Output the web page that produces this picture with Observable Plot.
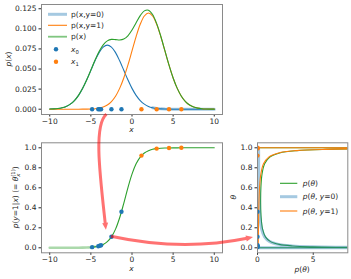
<!DOCTYPE html>
<html><head><meta charset="utf-8">
<script src="https://cdn.jsdelivr.net/npm/d3@7"></script>
<script src="https://cdn.jsdelivr.net/npm/@observablehq/plot@0.6"></script>
<style>
body{margin:0;background:#fff;}
#fig{position:relative;width:351px;height:279px;overflow:hidden;font-family:"DejaVu Sans",sans-serif;background:#fff;}
#fig svg{position:absolute;max-width:none;}
</style></head><body><div id="fig"></div>
<script>
// ---- data ----
const xs = [-10,-9.5,-9,-8.5,-8,-7.5,-7,-6.5,-6,-5.5,-5,-4.5,-4,-3.5,-3,-2.5,-2,-1.5,-1,-0.5,0,0.5,1,1.5,2,2.5,3,3.5,4,4.5,5,5.5,6,6.5,7,7.5,8,8.5,9,9.5,10];
const pXy0 = [0.000175,0.000405,0.000886,0.00182,0.0035,0.00635,0.0108,0.01726,0.02591,0.03653,0.0484,0.06023,0.07042,0.07734,0.0798,0.07734,0.07042,0.06023,0.0484,0.03653,0.02591,0.01726,0.0108,0.00635,0.0035,0.00182,0.000886,0.000405,0.000175,0.00007,0.000027,0.00001,0.000003,0.000001,0,0,0,0,0,0,0];
const pXy1 = [0,0,0,0,0,0.0000015,0.0000048,0.0000144,0.00004,0.000106,0.000262,0.000608,0.00133,0.00273,0.00525,0.00953,0.0162,0.02589,0.03886,0.05479,0.0726,0.09035,0.10563,0.11601,0.1197,0.11601,0.10563,0.09035,0.0726,0.05479,0.03886,0.02589,0.0162,0.00953,0.00525,0.00273,0.00133,0.000608,0.000262,0.000106,0.00004];
const pX = [0.000175,0.000405,0.000886,0.00182,0.0035,0.00635,0.0108,0.01727,0.02595,0.03664,0.04866,0.06084,0.07175,0.08007,0.08505,0.08687,0.08662,0.08612,0.08726,0.09132,0.09851,0.10761,0.11643,0.12236,0.1232,0.11783,0.10652,0.09076,0.07278,0.05486,0.03889,0.0259,0.0162,0.00953,0.00525,0.00273,0.00133,0.000608,0.000262,0.000106,0.00004];
const thetaX = [0.0000104,0.0000195,0.0000364,0.000068,0.000127,0.000237,0.000443,0.000828,0.00155,0.00289,0.00538,0.01001,0.01852,0.03406,0.0618,0.1096,0.187,0.3005,0.4452,0.5999,0.7369,0.8396,0.9072,0.9481,0.9715,0.9846,0.9917,0.99552,0.9976,0.99871,0.99931,0.99963,0.9998,0.999894,0.999943,0.99997,0.999984,0.9999913,0.9999954,0.9999975,0.9999987];

// theta panel (curves traced as (density, theta) pairs)
const thetaT = [0,0,0.00000025,0.00000086,0.000003,0.0000056,0.0000104,0.0000195,0.0000364,0.000068,0.000127,0.000237,0.000443,0.000828,0.00155,0.00289,0.00538,0.01001,0.01852,0.03406,0.0618,0.1096,0.187,0.3005,0.4452,0.5999,0.7369,0.8396,0.9072,0.9481,0.9715,0.9846,0.9917,0.99552,0.9976,0.99871,0.99931,0.99963,0.9998,0.999894,0.999943,0.99997,0.999984,0.9999913,0.9999954,0.9999975,0.9999987,0.9999993,0.9999996,1,1,1,1];
const densTheta = [0.048,0.245,0.97,3.0,7.1,10.1,13.5,16.6,19.5,21.4,22.0,21.4,19.5,16.7,13.4,10.1,7.28,4.91,3.16,1.95,1.17,0.712,0.456,0.328,0.283,0.305,0.406,0.64,1.107,1.989,3.559,6.22,10.36,16.3,24.4,34.0,45.1,56.0,64.8,71.9,73.7,72.8,66.5,55.9,45.6,33.9,24.7,16.2,10.1,3.28,0.83,0.162,0.025];
const densTheta0 = [0.048,0.245,0.97,3.0,7.1,10.1,13.5,16.6,19.5,21.4,22.0,21.4,19.5,16.7,13.4,10.1,7.24,4.86,3.10,1.88,1.10,0.634,0.371,0.229,0.157,0.122,0.107,0.1025,0.1027,0.1032,0.1014,0.0957,0.0859,0.0729,0.0584,0.0439,0.0311,0.0207,0.013,0.0076,0.0042,0.0022,0.0011,0.0005,0.0002,0.0001,0.00003,0,0,0,0,0,0];
const densTheta1 = [0,0,0,0,0,0.0001,0.00014,0.00032,0.00071,0.00146,0.0028,0.0051,0.0086,0.0138,0.0208,0.0294,0.0391,0.0492,0.0585,0.0663,0.0725,0.0781,0.0852,0.0985,0.1258,0.1826,0.2994,0.537,1.004,1.886,3.458,6.12,10.27,16.2,24.3,34.0,45.1,56.0,64.8,71.9,73.7,72.8,66.5,55.9,45.6,33.9,24.7,16.2,10.1,3.28,0.83,0.162,0.025];

const x0 = [-4.85,-4.1,-3.92,-3.76,-2.5,-1.28];
const x1 = [1.15,3.0,4.5,6.0];
const theta0 = [0.0065,0.016,0.021,0.025,0.11,0.36];
const theta1 = [0.922,0.992,0.9987,0.9998];

const xTicks = [-10,-5,0,5,10];
const pTicks = [0,0.025,0.05,0.075,0.1,0.125];
const thTicks = [0,0.2,0.4,0.6,0.8,1.0];
const dTicks = [0,5];

// ---- tables ----
const curve = xs.map((x,i)=>({x, p0:pXy0[i], p1:pXy1[i], p:pX[i], t:thetaX[i]}));
const thRows = thetaT.map((t,i)=>({t, d:densTheta[i], d0:densTheta0[i], d1:densTheta1[i]}));
const s0 = x0.map((x,i)=>({x, t:theta0[i], base:0}));
const s1 = x1.map((x,i)=>({x, t:theta1[i], base:0}));

const C0="#1f77b4", C1="#ff7f0e", C2="#2ca02c", FR="#8a8a8a";
const minus = d => d<0 ? "\u2212"+Math.abs(d) : String(d);
const style = {fontFamily:"DejaVu Sans", fontSize:"7.5px", color:"#262626", background:"transparent", overflow:"visible"};
const lw = 1.1;

const topP = Plot.plot({
  width:230, height:135, marginLeft:41, marginRight:8, marginTop:4, marginBottom:21, style,
  x:{domain:[-11,11], ticks:xTicks, tickFormat:minus, tickSize:2.5, tickPadding:1.5, label:null},
  y:{domain:[-0.0066,0.1303], ticks:pTicks, tickFormat:d3.format(".3f"), tickSize:2.5, tickPadding:2.5, label:null},
  marks:[
    Plot.line(curve.filter(d=>d.x>=2.5), {x:"x", y:"p0", stroke:C0, strokeWidth:3, strokeOpacity:0.4}),
    Plot.line(curve, {x:"x", y:"p0", stroke:C0, strokeWidth:lw, curve:"catmull-rom"}),
    Plot.line(curve, {x:"x", y:"p1", stroke:C1, strokeWidth:lw, curve:"catmull-rom"}),
    Plot.line(curve, {x:"x", y:"p", stroke:C2, strokeWidth:lw, curve:"catmull-rom"}),
    Plot.dot(s0, {x:"x", y:"base", r:2.2, fill:C0, stroke:"none"}),
    Plot.dot(s1, {x:"x", y:"base", r:2.2, fill:C1, stroke:"none"}),
    Plot.frame({stroke:FR})
  ]
});

const blP = Plot.plot({
  width:230, height:144, marginLeft:41, marginRight:8, marginTop:7.3, marginBottom:26.7, style,
  x:{domain:[-11,11], ticks:xTicks, tickFormat:minus, tickSize:2.5, tickPadding:1.5, label:null},
  y:{domain:[-0.05,1.05], ticks:thTicks, tickFormat:d3.format(".1f"), tickSize:2.5, tickPadding:2.5, label:null},
  marks:[
    Plot.line(curve.filter(d=>d.x<=-4.5), {x:"x", y:"t", stroke:C2, strokeWidth:2.6, strokeOpacity:0.4, curve:"catmull-rom"}),
    Plot.line(curve.filter(d=>d.x>=-5), {x:"x", y:"t", stroke:C2, strokeWidth:lw, curve:"catmull-rom"}),
    Plot.dot(s0, {x:"x", y:"t", r:2.2, fill:C0, stroke:"none"}),
    Plot.dot(s1, {x:"x", y:"t", r:2.2, fill:C1, stroke:"none"}),
    Plot.frame({stroke:FR})
  ]
});

const brP = Plot.plot({
  width:126, height:144, marginLeft:32, marginRight:3.7, marginTop:7.3, marginBottom:26.7, style,
  x:{domain:[0,8.1], ticks:dTicks, tickFormat:minus, tickSize:2.5, tickPadding:1.5, label:null},
  y:{domain:[-0.05,1.05], ticks:thTicks, tickFormat:d3.format(".1f"), tickSize:2.5, tickPadding:2.5, label:null},
  marks:[
    Plot.line(thRows, {x:"d", y:"t", stroke:C2, strokeWidth:lw, curve:"catmull-rom", clip:true}),
    Plot.line(thRows, {x:"d0", y:"t", stroke:C0, strokeWidth:3, strokeOpacity:0.4, curve:"catmull-rom", clip:true}),
    Plot.line(thRows, {x:"d1", y:"t", stroke:C1, strokeWidth:lw, curve:"catmull-rom", clip:true}),
    Plot.dot(s0, {x:"base", y:"t", r:2.2, fill:C0, stroke:"none", clip:true}),
    Plot.dot(s1, {x:"base", y:"t", r:2.2, fill:C1, stroke:"none", clip:true}),
    Plot.frame({stroke:FR})
  ]
});

const fig = document.getElementById("fig");
const place = (el, l, t) => { el.style.left = l+"px"; el.style.top = t+"px"; fig.appendChild(el); };
place(topP, 0, 0); place(blP, 0, 135); place(brP, 225, 135);

// ---- overlay: labels, legends, arrows ----
const ov = d3.select(fig).append("svg").attr("width",351).attr("height",279)
  .style("left","0px").style("top","0px").style("pointer-events","none")
  .attr("font-family","DejaVu Sans").attr("font-size",7.5).attr("fill","#262626");

function mtext(g, x, y, parts, opts={}) {
  const t = g.append("text").attr("x",x).attr("y",y).attr("dy","0.35em")
    .attr("text-anchor", opts.anchor||"start");
  if (opts.rotate) t.attr("transform",`rotate(-90,${x},${y})`);
  for (const p of parts) {
    const s = t.append("tspan").text(p.s);
    if (p.i) s.attr("font-style","italic");
    if (p.dy) s.attr("dy",p.dy);
    if (p.dx) s.attr("dx",p.dx);
    if (p.fs) s.attr("font-size",p.fs);
  }
  return t;
}
const I = s => ({s, i:true}), U = s => ({s});

// frame geometry from scales
const tx = topP.scale("x"), ty = topP.scale("y");
const bx = blP.scale("x"), by = blP.scale("y");
const rx = brP.scale("x"), ry = brP.scale("y");
const topFrame = {l:tx.range[0], r:tx.range[1], t:ty.range[1], b:ty.range[0]};
const blFrame = {l:bx.range[0], r:bx.range[1], t:by.range[1]+135, b:by.range[0]+135};
const brFrame = {l:rx.range[0]+225, r:rx.range[1]+225, t:ry.range[1]+135, b:ry.range[0]+135};

// axis labels
mtext(ov, 8, (topFrame.t+topFrame.b)/2, [I("p"),U("("),I("x"),U(")")], {anchor:"middle", rotate:true});
mtext(ov, (topFrame.l+topFrame.r)/2, topFrame.b+15, [I("x")], {anchor:"middle"});
mtext(ov, 15.5, (blFrame.t+blFrame.b)/2,
  [I("p"),U("("),I("y"),U("=1|"),I("x"),U(")  (= "),I("θ"),
   {s:"x", i:true, dy:2, fs:5.3},{s:"(1)", dx:-3.2, dy:-5.5, fs:5.3},{s:")", dy:3.5}],
  {anchor:"middle", rotate:true});
mtext(ov, (blFrame.l+blFrame.r)/2, blFrame.b+16, [I("x")], {anchor:"middle"});
mtext(ov, 233.5, (brFrame.t+brFrame.b)/2, [I("θ")], {anchor:"middle", rotate:true});
mtext(ov, (brFrame.l+brFrame.r)/2, brFrame.b+17.5, [I("p"),U("("),I("θ"),U(")")], {anchor:"middle"});

// top legend
const lgT = [
  {dy:10.3, kind:"line", c:C0, w:3, o:0.4, parts:[U("p(x,y=0)")]},
  {dy:21.3, kind:"line", c:C1, w:lw, o:1, parts:[U("p(x,y=1)")]},
  {dy:32.7, kind:"line", c:C2, w:1.8, o:0.6, parts:[U("p(x)")]},
  {dy:45.3, kind:"dot", c:C0, parts:[I("x"),{s:"0", dy:2, fs:5.3}]},
  {dy:57.7, kind:"dot", c:C1, parts:[I("x"),{s:"1", dy:2, fs:5.3}]}
];
for (const e of lgT) {
  const y = topFrame.t + e.dy, l = topFrame.l;
  if (e.kind==="line") ov.append("line").attr("x1",l+7).attr("x2",l+26).attr("y1",y).attr("y2",y)
    .attr("stroke",e.c).attr("stroke-width",e.w).attr("stroke-opacity",e.o);
  else ov.append("circle").attr("cx",l+15).attr("cy",y).attr("r",2.2).attr("fill",e.c);
  mtext(ov, l+30, y, e.parts);
}
// bottom-right legend
const lgR = [
  {dy:41, c:C2, w:lw, o:1, parts:[I("p"),U("("),I("θ"),U(")")]},
  {dy:54.4, c:C0, w:3, o:0.4, parts:[I("p"),U("("),I("θ"),U(", "),I("y"),U("=0)")]},
  {dy:68.7, c:C1, w:lw, o:1, parts:[I("p"),U("("),I("θ"),U(", "),I("y"),U("=1)")]}
];
for (const e of lgR) {
  const y = brFrame.t + e.dy, l = brFrame.l;
  ov.append("line").attr("x1",l+23).attr("x2",l+40.3).attr("y1",y).attr("y2",y)
    .attr("stroke",e.c).attr("stroke-width",e.w).attr("stroke-opacity",e.o);
  mtext(ov, l+45.7, y, e.parts);
}

// red arrows connecting the sample at x = -2.5 across panels
const sample = s0[4];
const pTop = [tx.apply(sample.x), ty.apply(0)];
const pBL = [bx.apply(sample.x), by.apply(sample.t)+135];
const pBR = [rx.apply(0)+225, ry.apply(sample.t)+135];
const ag = ov.append("g").attr("opacity",0.55);
function head(tip, from) {
  const dx = tip[0]-from[0], dy = tip[1]-from[1], n = Math.hypot(dx,dy);
  const ux = dx/n, uy = dy/n, L = 7, W = 3;
  const bxp = tip[0]-ux*L, byp = tip[1]-uy*L;
  ag.append("path").attr("d",`M${tip[0]},${tip[1]}L${bxp-uy*W},${byp+ux*W}L${bxp+uy*W},${byp-ux*W}Z`).attr("fill","red");
}
{
  const P0 = [pTop[0]-4.5, pTop[1]+5.5], P3 = [pBL[0]-5, pBL[1]-6.5];
  const C1p = [P0[0]-13, P0[1]+11], C2p = [P3[0]-6, P3[1]-55];
  const end = [P3[0]-0.7, P3[1]-6.5];
  ag.append("path").attr("d",`M${P0}C${C1p} ${C2p} ${end}`).attr("fill","none").attr("stroke","red").attr("stroke-width",3);
  head(P3, C2p);
}
{
  const P0 = pBL, P2 = [pBR[0]-4, pBR[1]+0.8];
  const C = [(P0[0]+P2[0])/2, (P0[1]+P2[1])/2+15];
  const u = [P2[0]-C[0], P2[1]-C[1]], n = Math.hypot(...u);
  const end = [P2[0]-u[0]/n*6, P2[1]-u[1]/n*6];
  ag.append("path").attr("d",`M${P0}Q${C} ${end}`).attr("fill","none").attr("stroke","red").attr("stroke-width",3);
  head(P2, C);
}
</script></body></html>
